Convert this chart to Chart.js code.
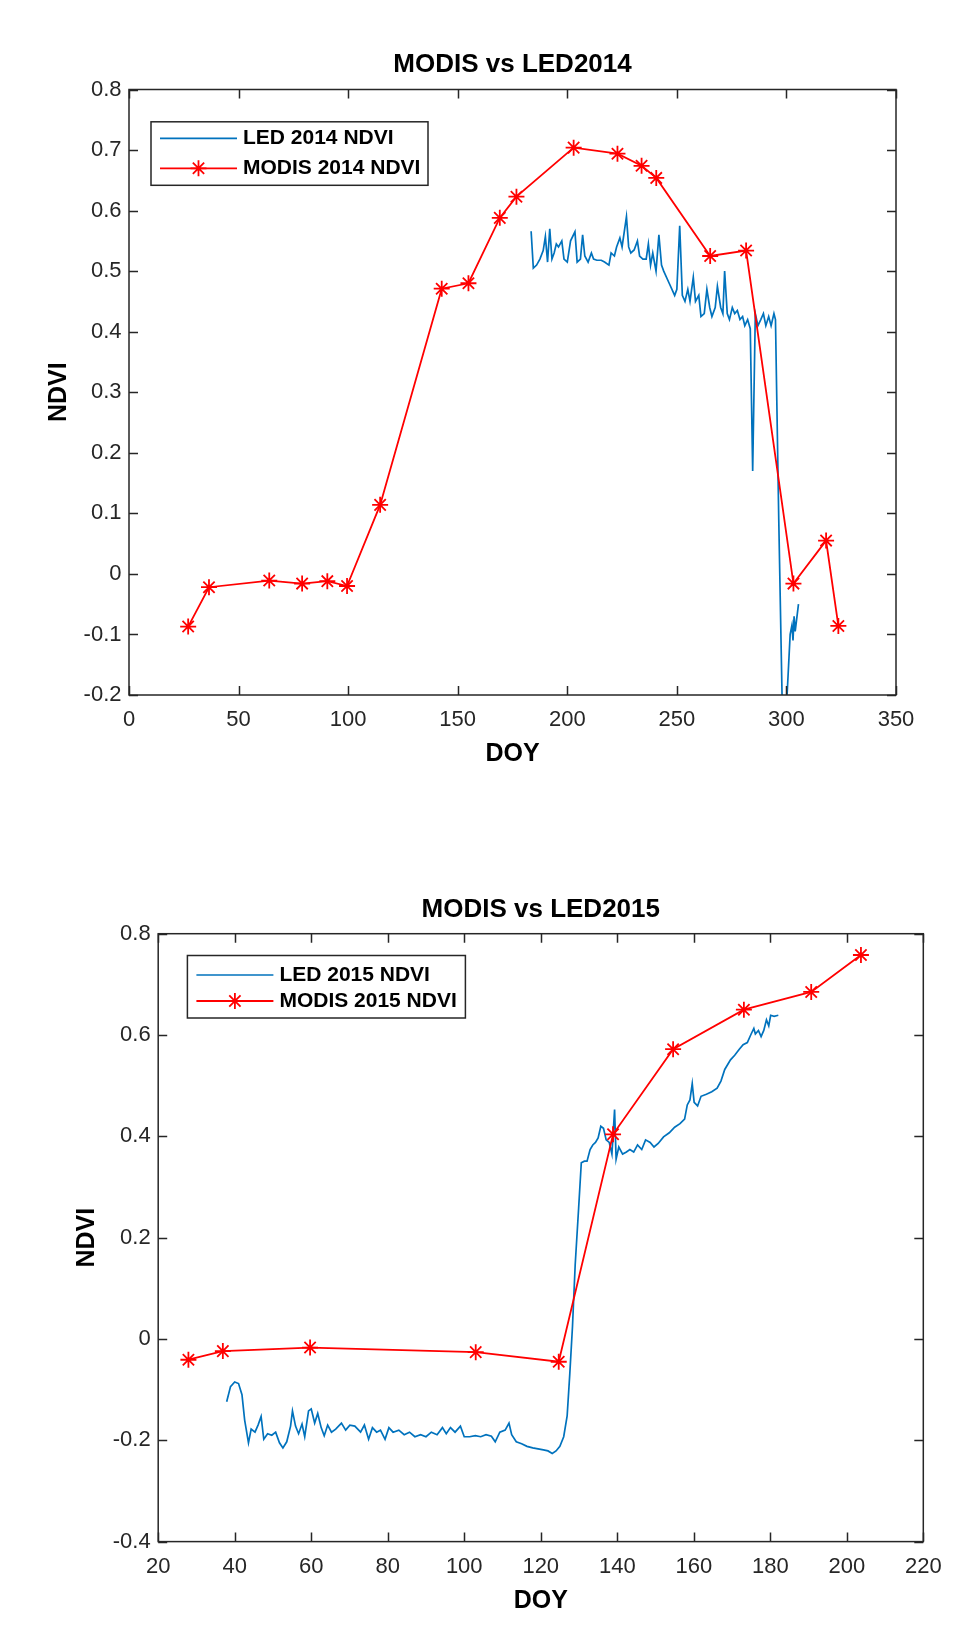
<!DOCTYPE html>
<html lang="en">
<head>
<meta charset="UTF-8">
<title>MODIS vs LED NDVI</title>
<script src="https://cdn.jsdelivr.net/npm/chart.js"></script>
<style>
    * { margin: 0; padding: 0; box-sizing: border-box; }
    body { background: #fff; width: 966px; height: 1633px; overflow: hidden; position: relative; }
    .plot { position: absolute; left: 0; }
    #chart2014 { top: 0; }
    #chart2015 { top: 820px; }
</style>
</head>
<body>
<canvas id="chart2014" class="plot" width="966" height="800"></canvas>
<canvas id="chart2015" class="plot" width="966" height="813"></canvas>
<script>
// values
const led14Doy = [183.5,184.5,186,187.5,189,190,191,192,193,194,195,196,197.5,198.5,200,201.5,203.5,204.5,206,207,
    208,209.5,211,212,213.5,215.5,217,219,220,221.5,222.5,224,225,227,228,229,230.5,232,233,234.5,
    236,237,238,239,240.5,241.8,243,244,246.5,249,250,251.3,252.5,253.7,255,256,257.5,258.5,260,261,
    262.5,263.7,265,266,267.5,268.5,270,271,271.8,273,274,275.3,276.4,277.6,278.8,280,281,282.3,283.5,284.6,
    285.8,287,288.3,289.5,290.6,291.9,293,294.3,295,296.5,298,299,300.3,301,301.7,302.5,303,303.5,304,305.5];
const led14Ndvi = [0.566,0.505,0.51,0.52,0.534,0.557,0.515,0.57,0.52,0.53,0.545,0.54,0.55,0.52,0.515,0.55,0.565,0.515,0.52,0.56,
    0.525,0.515,0.53,0.52,0.518,0.518,0.515,0.51,0.53,0.525,0.54,0.555,0.54,0.59,0.54,0.53,0.535,0.55,0.525,0.52,
    0.52,0.545,0.51,0.53,0.50,0.56,0.51,0.50,0.48,0.46,0.47,0.575,0.46,0.45,0.47,0.45,0.49,0.45,0.46,0.425,
    0.43,0.47,0.44,0.425,0.44,0.475,0.44,0.43,0.50,0.43,0.42,0.44,0.43,0.435,0.42,0.425,0.41,0.42,0.405,0.17,
    0.43,0.41,0.42,0.43,0.41,0.425,0.41,0.43,0.42,0.09,-0.2,-0.215,-0.2,-0.15,-0.1,-0.085,-0.11,-0.07,-0.095,-0.05];
const modis14Doy = [27,36.5,64,79,90.5,99.5,114.6,142.7,154.9,169.2,176.8,202.9,222.9,233.9,240.6,265.2,281.6,303.2,318.1,323.7];
const modis14Ndvi = [-0.087,-0.022,-0.011,-0.016,-0.012,-0.020,0.114,0.471,0.480,0.588,0.623,0.704,0.694,0.674,0.654,0.525,0.534,-0.016,0.055,-0.086];

const led15Doy = [37.9,38.9,40,41,41.9,42.6,43.6,44.3,45.3,46.1,46.9,47.6,48.6,49.7,50.7,51.7,52.6,53.6,54.6,55.1,
    55.9,56.7,57.6,58.3,59.3,60,60.9,61.7,62.6,63.4,64.3,65.3,66.4,67.9,69,70.1,71.4,72.9,73.9,75,
    76,77.1,78.1,79.3,80.3,81.4,82.9,84.3,85.7,87.1,88.6,90,91.4,92.9,94.3,95.3,96.4,97.6,99,100,
    101.4,102.9,104.3,105.7,107.1,108.1,109.3,110.7,111.7,112.4,113.6,115,116.4,117.9,119.3,120.7,121.9,123,124,125,
    126,126.9,127.6,128.3,129,129.9,130.6,131.4,132.1,132.9,133.6,134.3,135,135.7,136.4,137.1,137.9,138.6,139.3,139.7,
    140.4,141.4,142.4,143.3,144.3,145.3,146.4,147.4,148.6,149.6,150.7,152.1,153.6,155,156.4,157.6,158.3,159,159.6,160.1,
    161,161.9,163.3,164.7,166.1,167.1,168.1,169.6,170.7,171.9,172.9,174,175,175.7,176.1,176.9,177.6,178.3,179,179.6,
    180.1,181,182.1];
const led15Ndvi = [-0.124,-0.094,-0.085,-0.088,-0.11,-0.16,-0.205,-0.178,-0.184,-0.17,-0.153,-0.198,-0.187,-0.19,-0.184,-0.205,-0.215,-0.203,-0.172,-0.142,
    -0.172,-0.187,-0.168,-0.193,-0.142,-0.138,-0.166,-0.147,-0.175,-0.191,-0.17,-0.184,-0.178,-0.166,-0.18,-0.17,-0.172,-0.184,-0.17,-0.198,
    -0.175,-0.184,-0.18,-0.198,-0.175,-0.184,-0.18,-0.189,-0.184,-0.193,-0.189,-0.193,-0.184,-0.189,-0.175,-0.187,-0.175,-0.184,-0.172,-0.193,
    -0.193,-0.191,-0.193,-0.189,-0.192,-0.203,-0.184,-0.18,-0.166,-0.189,-0.203,-0.207,-0.212,-0.215,-0.217,-0.219,-0.221,-0.226,-0.221,-0.212,
    -0.193,-0.152,-0.068,0.025,0.146,0.258,0.348,0.351,0.351,0.374,0.383,0.388,0.397,0.42,0.416,0.393,0.388,0.365,0.453,0.355,
    0.379,0.365,0.369,0.374,0.369,0.383,0.374,0.393,0.388,0.379,0.386,0.399,0.407,0.418,0.425,0.434,0.462,0.472,0.504,0.467,
    0.46,0.479,0.483,0.488,0.495,0.509,0.532,0.551,0.56,0.572,0.581,0.585,0.602,0.613,0.602,0.609,0.597,0.609,0.63,0.618,
    0.639,0.637,0.639];
const modis15Doy = [27.9,36.9,59.7,103,124.7,138.9,154.6,173.1,190.7,203.7];
const modis15Ndvi = [-0.041,-0.024,-0.017,-0.026,-0.045,0.404,0.572,0.650,0.685,0.758];

const xTicks14 = [0, 50, 100, 150, 200, 250, 300, 350];
const yTicks14 = [-0.2, -0.1, 0, 0.1, 0.2, 0.3, 0.4, 0.5, 0.6, 0.7, 0.8];
const xTicks15 = [20, 40, 60, 80, 100, 120, 140, 160, 180, 200, 220];
const yTicks15 = [-0.4, -0.2, 0, 0.2, 0.4, 0.6, 0.8];

const FONT = '"Liberation Sans", Arial, Helvetica, sans-serif';
const AXIS_COLOR = '#262626';
const BLUE = '#0072BD';
const RED = '#FF0000';

Chart.defaults.font.family = FONT;
Chart.defaults.color = AXIS_COLOR;

const toPoints = (xs, ys) => xs.map((x, i) => ({ x: x, y: ys[i] }));

function drawStar(ctx, cx, cy, r) {
    ctx.beginPath();
    for (let k = 0; k < 4; k++) {
        const a = k * Math.PI / 4;
        ctx.moveTo(cx - r * Math.cos(a), cy - r * Math.sin(a));
        ctx.lineTo(cx + r * Math.cos(a), cy + r * Math.sin(a));
    }
    ctx.stroke();
}

// MATLAB style box with inward ticks on all four sides
const matlabAxes = {
    id: 'matlabAxes',
    afterDatasetsDraw(chart) {
        const { ctx, chartArea: a, scales: { x, y } } = chart;
        const len = 9;
        ctx.save();
        ctx.strokeStyle = AXIS_COLOR;
        ctx.lineWidth = 1.5;
        ctx.beginPath();
        x.ticks.forEach(t => {
            const px = Math.round(x.getPixelForValue(t.value)) + 0.5;
            ctx.moveTo(px, a.bottom); ctx.lineTo(px, a.bottom - len);
            ctx.moveTo(px, a.top); ctx.lineTo(px, a.top + len);
        });
        y.ticks.forEach(t => {
            const py = Math.round(y.getPixelForValue(t.value)) + 0.5;
            ctx.moveTo(a.left, py); ctx.lineTo(a.left + len, py);
            ctx.moveTo(a.right, py); ctx.lineTo(a.right - len, py);
        });
        ctx.stroke();
        ctx.strokeRect(a.left, a.top, a.right - a.left, a.bottom - a.top);
        ctx.restore();
    }
};

// boxed legend inside the axes, like MATLAB's 'northwest'
const boxLegend = {
    id: 'boxLegend',
    afterDraw(chart, args, opts) {
        const { ctx, chartArea: a } = chart;
        const left = a.left + opts.x, top = a.top + opts.y;
        ctx.save();
        ctx.fillStyle = '#fff';
        ctx.fillRect(left, top, opts.w, opts.h);
        ctx.strokeStyle = AXIS_COLOR;
        ctx.lineWidth = 1.5;
        ctx.strokeRect(left, top, opts.w, opts.h);
        ctx.font = 'bold 21px ' + FONT;
        ctx.textBaseline = 'middle';
        ctx.textAlign = 'left';
        chart.data.datasets.forEach((ds, i) => {
            const cy = top + opts.row0 + i * opts.gap;
            ctx.strokeStyle = ds.borderColor;
            ctx.lineWidth = ds.borderWidth;
            ctx.beginPath();
            ctx.moveTo(left + 9, cy);
            ctx.lineTo(left + 86, cy);
            ctx.stroke();
            if (ds.pointRadius > 0) drawStar(ctx, left + 47.5, cy, ds.pointRadius);
            ctx.fillStyle = '#000';
            ctx.fillText(ds.label, left + 92, cy);
        });
        ctx.restore();
    }
};

function makeChart(id, p) {
    return new Chart(document.getElementById(id), {
        type: 'line',
        data: {
            datasets: [
                {
                    label: p.ledLabel,
                    data: toPoints(p.ledX, p.ledY),
                    borderColor: BLUE,
                    borderWidth: 1.7,
                    pointRadius: 0,
                    tension: 0,
                    order: 1
                },
                {
                    label: p.modisLabel,
                    data: toPoints(p.modisX, p.modisY),
                    borderColor: RED,
                    backgroundColor: RED,
                    borderWidth: 1.8,
                    pointStyle: 'star',
                    pointRadius: 8,
                    pointBorderWidth: 1.8,
                    pointBorderColor: RED,
                    tension: 0,
                    order: 0
                }
            ]
        },
        options: {
            responsive: false,
            animation: false,
            devicePixelRatio: 1,
            layout: { padding: p.padding },
            plugins: {
                legend: { display: false },
                tooltip: { enabled: false },
                title: {
                    display: true,
                    fullSize: false,
                    text: p.title,
                    color: '#000',
                    font: { size: 26, weight: 'bold' },
                    padding: p.titlePad
                },
                boxLegend: p.legend
            },
            scales: {
                x: {
                    type: 'linear',
                    min: p.xTicks[0],
                    max: p.xTicks[p.xTicks.length - 1],
                    afterBuildTicks: s => { s.ticks = p.xTicks.map(v => ({ value: v })); },
                    afterFit: s => { s.height = 80; },
                    grid: { display: false, drawTicks: false },
                    border: { display: false },
                    ticks: { font: { size: 22 }, padding: 11.8, maxRotation: 0, callback: v => String(v) },
                    title: { display: true, text: 'DOY', color: '#000', font: { size: 25, weight: 'bold' }, padding: { top: 0, bottom: 5.5 } }
                },
                y: {
                    type: 'linear',
                    min: p.yTicks[0],
                    max: p.yTicks[p.yTicks.length - 1],
                    afterBuildTicks: s => { s.ticks = p.yTicks.map(v => ({ value: v })); },
                    afterFit: s => { s.width = p.yWidth; },
                    grid: { display: false, drawTicks: false },
                    border: { display: false },
                    ticks: { font: { size: 22 }, padding: 7.5, callback: v => String(Math.round(v * 10) / 10) },
                    title: { display: true, text: 'NDVI', color: '#000', font: { size: 25, weight: 'bold' }, padding: { top: 44, bottom: 0 } }
                }
            }
        },
        plugins: [matlabAxes, boxLegend]
    });
}

makeChart('chart2014', {
    title: 'MODIS vs LED2014',
    ledLabel: 'LED 2014 NDVI',
    modisLabel: 'MODIS 2014 NDVI',
    ledX: led14Doy, ledY: led14Ndvi,
    modisX: modis14Doy, modisY: modis14Ndvi,
    xTicks: xTicks14, yTicks: yTicks14,
    padding: { top: 0, left: 0, right: 70, bottom: 25 },
    titlePad: { top: 48.9, bottom: 9.4 },
    yWidth: 129,
    legend: { x: 22, y: 32.3, w: 277, h: 63.5, row0: 16.5, gap: 30 }
});

makeChart('chart2015', {
    title: 'MODIS vs LED2015',
    ledLabel: 'LED 2015 NDVI',
    modisLabel: 'MODIS 2015 NDVI',
    ledX: led15Doy, ledY: led15Ndvi,
    modisX: modis15Doy, modisY: modis15Ndvi,
    xTicks: xTicks15, yTicks: yTicks15,
    padding: { top: 0, left: 28.2, right: 42.7, bottom: 11.4 },
    titlePad: { top: 74.1, bottom: 8.4 },
    yWidth: 130,
    legend: { x: 29.2, y: 21.8, w: 278, h: 62.5, row0: 19.5, gap: 26 }
});
</script>
</body>
</html>
